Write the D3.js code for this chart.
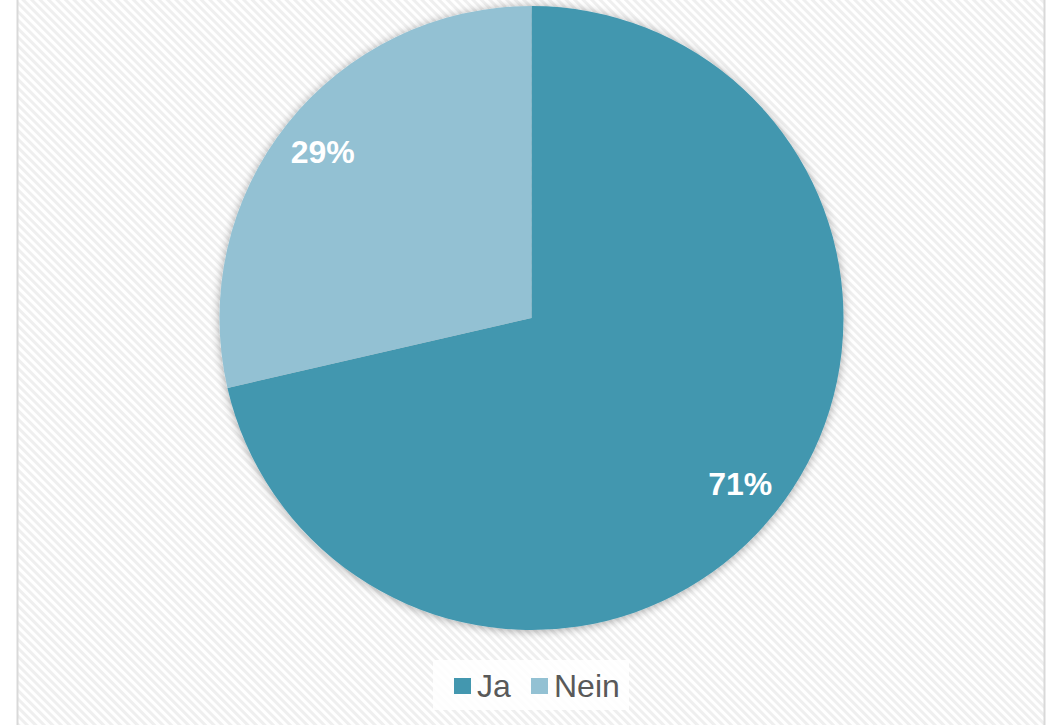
<!DOCTYPE html>
<html>
<head>
<meta charset="utf-8">
<script src="https://cdn.jsdelivr.net/npm/d3@7"></script>
<style>
  body { margin: 0; background: #fff; }
  svg { display: block; }
</style>
</head>
<body>
<div id="vis"></div>
<script>
// frame constants
const FRAME_WIDTH = 1051;
const FRAME_HEIGHT = 725;
const CENTER = {x: 531.5, y: 318};
const RADIUS = 312;

// data
const CATEGORIES = ["Ja", "Nein"];
const VALUES = [71.4, 28.6];
const COLORS = ["#4397AF", "#93C1D3"];

const svg = d3.select("#vis")
  .append("svg")
    .attr("width", FRAME_WIDTH)
    .attr("height", FRAME_HEIGHT);

const defs = svg.append("defs");

// diagonal hatch background
const pat = defs.append("pattern")
    .attr("id", "hatch")
    .attr("patternUnits", "userSpaceOnUse")
    .attr("width", 6)
    .attr("height", 6)
    .attr("patternTransform", "rotate(45)");
pat.append("rect").attr("width", 6).attr("height", 6).attr("fill", "#ffffff");
pat.append("rect").attr("width", 6).attr("height", 3).attr("fill", "#efefef");

// soft shadow for the pie
const filt = defs.append("filter")
    .attr("id", "shadow")
    .attr("x", "-10%").attr("y", "-10%")
    .attr("width", "120%").attr("height", "120%");
filt.append("feGaussianBlur").attr("in", "SourceAlpha").attr("stdDeviation", 5);
filt.append("feOffset").attr("dx", 0).attr("dy", 1).attr("result", "blur");
filt.append("feComponentTransfer").append("feFuncA").attr("type", "linear").attr("slope", 0.35);
const merge = filt.append("feMerge");
merge.append("feMergeNode");
merge.append("feMergeNode").attr("in", "SourceGraphic");

// chart area
svg.append("rect")
    .attr("x", 17.5).attr("y", -2)
    .attr("width", 1027).attr("height", FRAME_HEIGHT + 4)
    .attr("fill", "url(#hatch)")
    .attr("stroke", "#d9d9d9")
    .attr("stroke-width", 2);

const pie = d3.pie().sort(null).value(d => d)(VALUES);
const arc = d3.arc().innerRadius(0).outerRadius(RADIUS);
const labelArc = d3.arc().innerRadius(RADIUS * 0.855).outerRadius(RADIUS * 0.855);
const total = d3.sum(VALUES);
const fmt = d3.format(".0%");

const g = svg.append("g")
    .attr("transform", "translate(" + CENTER.x + "," + CENTER.y + ")");

g.append("g")
    .attr("filter", "url(#shadow)")
  .selectAll("path")
  .data(pie)
  .enter()
  .append("path")
    .attr("d", arc)
    .attr("fill", (d, i) => COLORS[i]);

g.selectAll("text.lbl")
  .data(pie)
  .enter()
  .append("text")
    .attr("class", "lbl")
    .attr("transform", d => "translate(" + labelArc.centroid(d) + ")")
    .attr("text-anchor", "middle")
    .attr("dy", "0.35em")
    .attr("font-family", "Liberation Sans, Arial, sans-serif")
    .attr("font-weight", "bold")
    .attr("font-size", "32px")
    .attr("fill", "#ffffff")
    .text(d => fmt(d.value / total));

// legend
const legend = svg.append("g");
legend.append("rect")
    .attr("x", 433).attr("y", 660)
    .attr("width", 196).attr("height", 50)
    .attr("fill", "#ffffff")
    .attr("opacity", 0.85);

const legendX = [454, 531];
const items = legend.selectAll("g.item")
  .data(CATEGORIES)
  .enter()
  .append("g")
    .attr("class", "item")
    .attr("transform", (d, i) => "translate(" + legendX[i] + ",678)");

items.append("rect")
    .attr("width", 17).attr("height", 16)
    .attr("fill", (d, i) => COLORS[i]);

items.append("text")
    .attr("x", 23)
    .attr("y", 8)
    .attr("dy", "0.35em")
    .attr("font-family", "Liberation Sans, Arial, sans-serif")
    .attr("font-size", "32px")
    .attr("fill", "#595959")
    .text(d => d);
</script>
</body>
</html>
